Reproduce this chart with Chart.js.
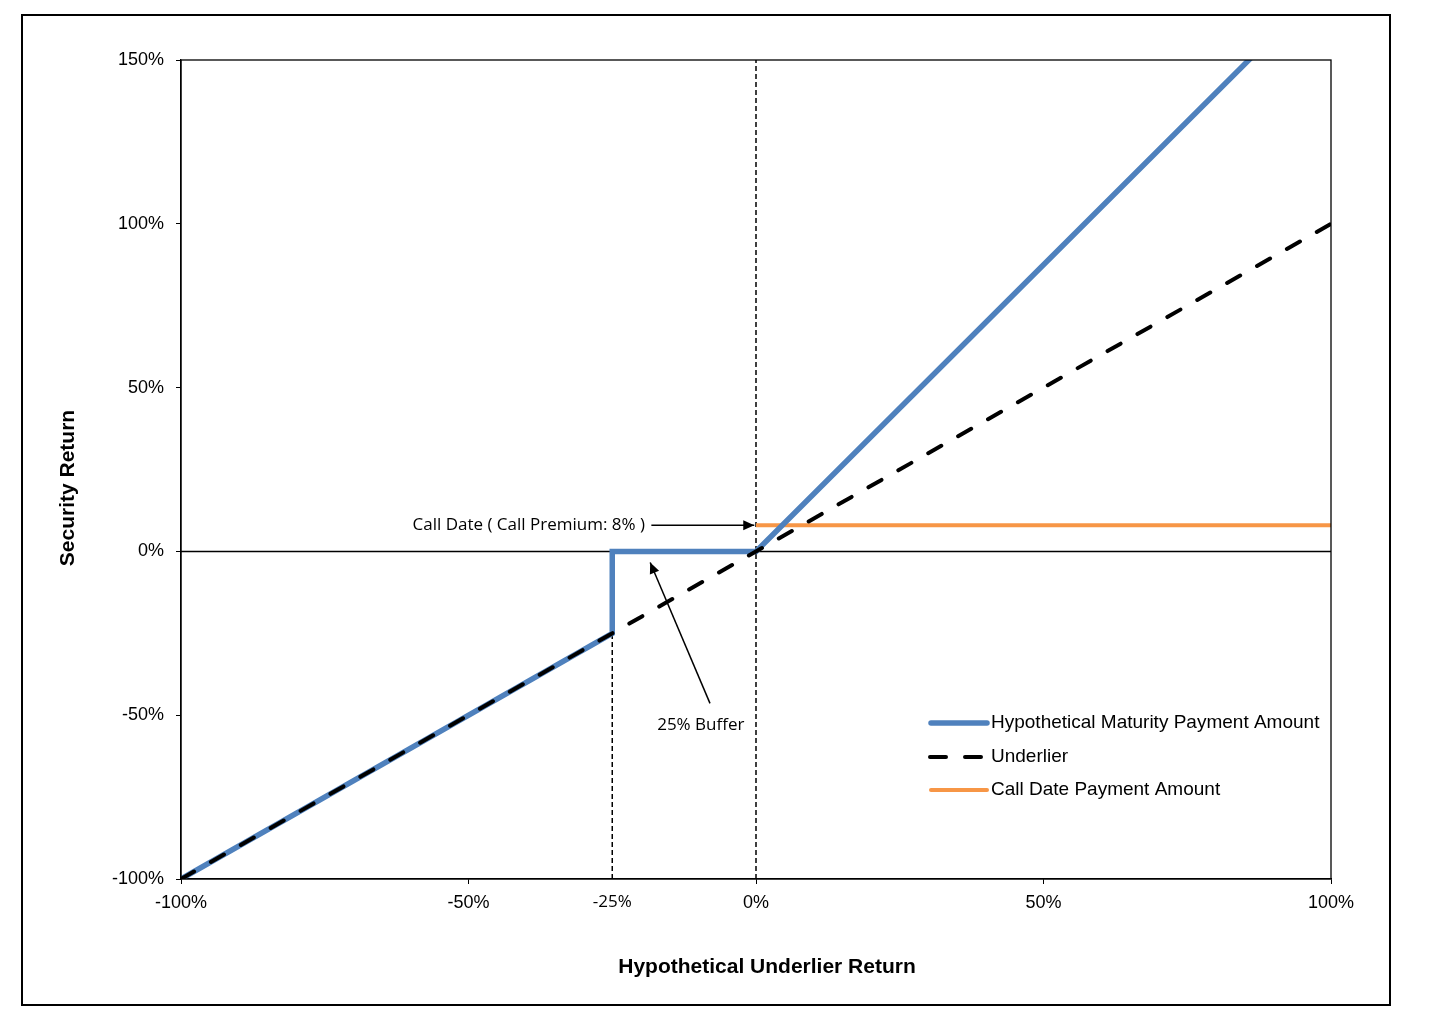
<!DOCTYPE html>
<html lang="en">
<head>
  <meta charset="UTF-8">
  <title>Hypothetical Payout</title>
  <script src="https://cdn.jsdelivr.net/npm/chart.js"></script>
  <style>
    body { margin: 0; background: #fff; }
    .chart-container { width: 1443px; height: 1020px; }
  </style>
</head>
<body>
  <div class="chart-container">
    <canvas id="payoutChart"></canvas>
  </div>

  <script>
    // data (percent)
    const maturityX = [-100, -25, -25, 0, 100];
    const maturityY = [-100, -25, 0, 0, 175];
    const underlierX = [-100, 100];
    const underlierY = [-100, 100];
    const callX = [0, 100];
    const callY = [8, 8];
    const xTicks = [-100, -50, -25, 0, 50, 100];
    const yTicks = [-100, -50, 0, 50, 100, 150];
    const seriesNames = ['Hypothetical Maturity Payment Amount', 'Underlier', 'Call Date Payment Amount'];

    const BLUE = '#4f81bd';
    const ORANGE = '#f79646';

    const pts = (xs, ys) => xs.map((x, i) => ({ x: x, y: ys[i] }));

    // frame, titles, arrows, notes, legend
    const decor = {
      id: 'decor',
      afterDraw(chart) {
        const c = chart.ctx;
        const a = chart.chartArea;
        const sx = chart.scales.x, sy = chart.scales.y;
        c.save();
        c.strokeStyle = '#000';
        c.lineWidth = 2;
        c.strokeRect(22, 15, 1368, 990);
        c.lineWidth = 1.3;
        c.strokeRect(a.left, a.top, a.right - a.left, a.bottom - a.top);

        // axis titles
        c.fillStyle = '#000';
        c.font = 'bold 21px "Liberation Sans", Arial, sans-serif';
        c.textAlign = 'center';
        c.textBaseline = 'middle';
        c.fillText('Hypothetical Underlier Return', 767, 967);
        c.save();
        c.translate(68, 488);
        c.rotate(-Math.PI / 2);
        c.fillText('Security Return', 0, 0);
        c.restore();

        // arrows
        function arrow(x1, y1, x2, y2) {
          c.beginPath();
          c.moveTo(x1, y1);
          c.lineTo(x2, y2);
          c.lineWidth = 1.5;
          c.stroke();
          const ang = Math.atan2(y2 - y1, x2 - x1);
          const len = 11, w = 5;
          c.beginPath();
          c.moveTo(x2, y2);
          c.lineTo(x2 - len * Math.cos(ang) + w * Math.sin(ang), y2 - len * Math.sin(ang) - w * Math.cos(ang));
          c.lineTo(x2 - len * Math.cos(ang) - w * Math.sin(ang), y2 - len * Math.sin(ang) + w * Math.cos(ang));
          c.closePath();
          c.fill();
        }
        arrow(sx.getPixelForValue(-18.2), sy.getPixelForValue(8), sx.getPixelForValue(-0.3), sy.getPixelForValue(8));
        arrow(sx.getPixelForValue(-8), sy.getPixelForValue(-46.4), sx.getPixelForValue(-18.4), sy.getPixelForValue(-3.4));

        c.font = '17px "Open Sans", sans-serif';
        c.textAlign = 'right';
        c.fillText('Call Date ( Call Premium: 8% )', sx.getPixelForValue(-19.3), sy.getPixelForValue(8));
        c.textAlign = 'center';
        c.fillText('25% Buffer', sx.getPixelForValue(-9.6), sy.getPixelForValue(-53));

        // legend
        const ds = chart.data.datasets;
        const rows = [723, 757, 790];
        c.font = '19px "Liberation Sans", Arial, sans-serif';
        c.textAlign = 'left';
        for (let i = 0; i < 3; i++) {
          const d = ds[i];
          c.beginPath();
          c.strokeStyle = d.borderColor;
          c.lineWidth = d.borderWidth;
          c.lineCap = 'round';
          if (i === 1) {
            c.moveTo(930, rows[i]); c.lineTo(946, rows[i]);
            c.moveTo(965, rows[i]); c.lineTo(981, rows[i]);
          } else {
            c.moveTo(931, rows[i]);
            c.lineTo(987, rows[i]);
          }
          c.stroke();
          c.fillText(seriesNames[i], 991, rows[i]);
        }
        c.restore();
      }
    };

    const lineDs = (data, color, width, dash, order) => ({
      data: data, borderColor: color, borderWidth: width, borderDash: dash,
      pointRadius: 0, fill: false, tension: 0, showLine: true, order: order, clip: 0
    });

    new Chart(document.getElementById('payoutChart'), {
      type: 'scatter',
      data: {
        datasets: [
          Object.assign(lineDs(pts(maturityX, maturityY), BLUE, 5.5, [], 3), { label: seriesNames[0] }),
          Object.assign(lineDs(pts(underlierX, underlierY), '#000', 4, [15, 19.4], 2), { label: seriesNames[1], borderCapStyle: 'round' }),
          Object.assign(lineDs(pts(callX, callY), ORANGE, 4, [], 4), { label: seriesNames[2] }),
          lineDs(pts([-100, 100], [0, 0]), '#000', 1.5, [], 5),
          lineDs(pts([0, 0], [-100, 150]), '#000', 1.5, [5, 3], 6),
          lineDs(pts([-25, -25], [-100, 0]), '#000', 1.5, [5, 3], 6)
        ]
      },
      options: {
        responsive: true,
        maintainAspectRatio: false,
        animation: false,
        layout: { padding: { left: 0, top: 60, right: 112, bottom: 0 } },
        plugins: { legend: { display: false }, tooltip: { enabled: false } },
        scales: {
          x: {
            type: 'linear', min: -100, max: 100,
            afterBuildTicks: s => { s.ticks = xTicks.map(v => ({ value: v })); },
            afterFit: s => { s.height = 141; },
            grid: {
              drawOnChartArea: false, tickLength: 5,
              tickColor: ctx => (ctx.tick && ctx.tick.value === -25) ? 'rgba(0,0,0,0)' : '#000'
            },
            border: { color: '#000', width: 1.3 },
            ticks: {
              color: '#000', padding: 8, maxRotation: 0, autoSkip: false,
              font: ctx => (ctx.tick && ctx.tick.value === -25)
                ? { family: '"Open Sans", sans-serif', size: 17 }
                : { family: '"Liberation Sans", Arial, sans-serif', size: 18 },
              callback: v => v + '%'
            }
          },
          y: {
            type: 'linear', min: -100, max: 150,
            afterBuildTicks: s => { s.ticks = yTicks.map(v => ({ value: v })); },
            afterFit: s => { s.width = 181; },
            grid: { drawOnChartArea: false, tickLength: 5, tickColor: '#000' },
            border: { color: '#000', width: 1.3 },
            ticks: {
              color: '#000', padding: 12,
              font: { family: '"Liberation Sans", Arial, sans-serif', size: 18 },
              callback: v => v + '%'
            }
          }
        }
      },
      plugins: [decor]
    });
  </script>
</body>
</html>
